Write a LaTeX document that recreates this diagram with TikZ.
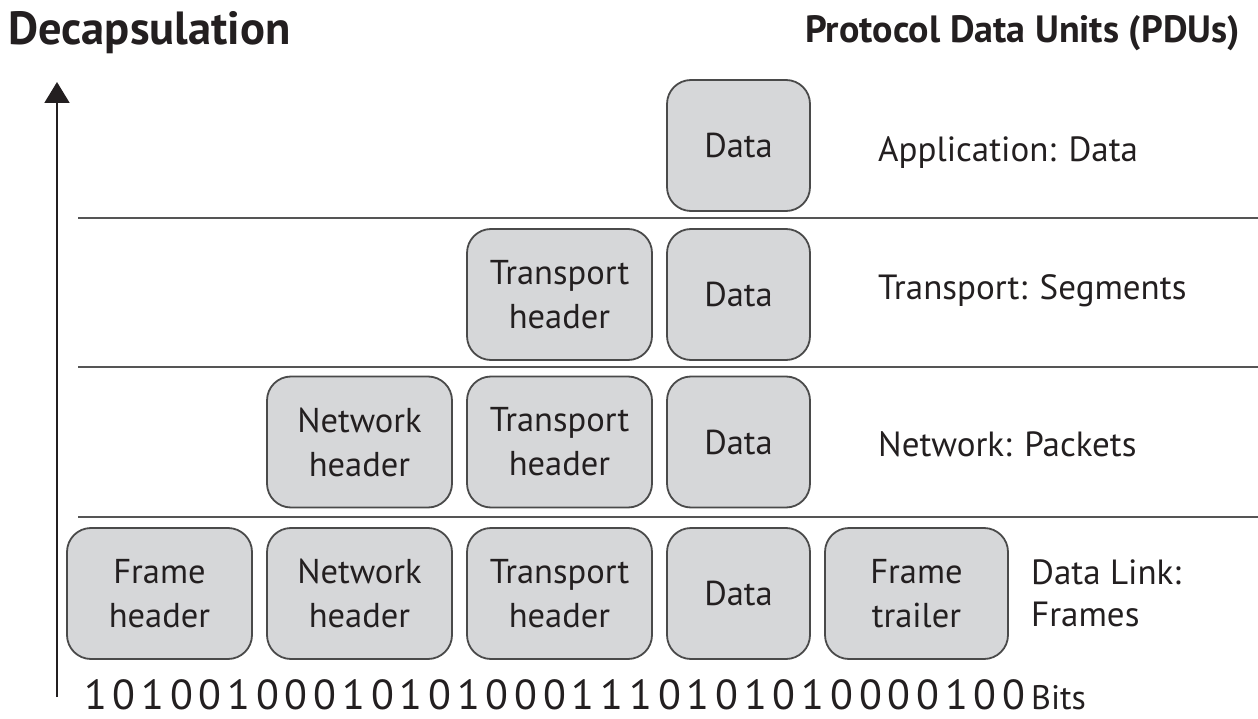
\documentclass[tikz,border=0pt]{standalone}
\usepackage{fontspec}
\setmainfont{PT Sans}
\usetikzlibrary{arrows.meta}
\definecolor{boxfill}{HTML}{D6D7D9}
\definecolor{boxline}{HTML}{4A4A4A}
\definecolor{linegray}{HTML}{555555}
\definecolor{ink}{HTML}{231F20}
\tikzset{
  pdu/.style={draw=boxline, fill=boxfill, line width=1.8pt, rounded corners=24pt,
    align=center, text=ink, font=\fontsize{34.5}{44}\selectfont, inner sep=0pt,
    minimum height=131pt},
  hdr/.style={pdu, minimum width=185pt},
  dat/.style={pdu, minimum width=143pt},
  trl/.style={pdu, minimum width=183pt},
  lbl/.style={anchor=west, text=ink, font=\fontsize{35}{42}\selectfont, align=left, inner sep=0pt},
  title/.style={anchor=base west, text=ink, inner sep=0pt},
  sep/.style={draw=linegray, line width=2.5pt},
}
\newcommand\bitcell[1]{\makebox[28.7pt]{#1}}
\begin{document}
\begin{tikzpicture}[x=1pt,y=-1pt]
\useasboundingbox (0,0) rectangle (1258,719);

% titles
\node[title, font=\fontsize{46.5}{46}\selectfont\bfseries] (t1) at (8,45) {Decapsulation};
\node[title, font=\fontsize{38}{38}\selectfont\bfseries] (t2) at (805,43) {Protocol Data Units (PDUs)};

% arrow
\coordinate (ab) at (57,697);
\coordinate (at) at (57,82);
\draw[line width=2pt, ink, -{Triangle[width=25pt,length=21pt]}] (ab) -- (at);

% separators
\coordinate (s1a) at (78,218); \coordinate (s1b) at (1258,218);
\coordinate (s2a) at (78,367); \coordinate (s2b) at (1258,367);
\coordinate (s3a) at (78,517); \coordinate (s3b) at (1258,517);
\draw[sep] (s1a) -- (s1b);
\draw[sep] (s2a) -- (s2b);
\draw[sep] (s3a) -- (s3b);

% row 1: application
\node[dat] (a1) at (738.5,145.5) {Data};
% row 2: transport
\node[hdr] (t2h) at (559.5,294.5) {Transport\\header};
\node[dat] (t2d) at (738.5,294.5) {Data};
% row 3: network
\node[hdr] (n3n) at (359.5,442) {Network\\header};
\node[hdr] (n3t) at (559.5,442) {Transport\\header};
\node[dat] (n3d) at (738.5,442) {Data};
% row 4: data link
\node[hdr] (d4f) at (159.5,593.5) {Frame\\header};
\node[hdr] (d4n) at (359.5,593.5) {Network\\header};
\node[hdr] (d4t) at (559.5,593.5) {Transport\\header};
\node[dat] (d4d) at (738.5,593.5) {Data};
\node[trl] (d4r) at (916.5,593.5) {Frame\\trailer};

% labels
\node[lbl] (la) at (878,153) {Application: Data};
\node[lbl] (lt) at (878,291) {Transport: Segments};
\node[lbl] (ln) at (878,444) {Network: Packets};
\node[lbl] (ld) at (1031,593) {Data Link:\\Frames};

% bits
\node[title, font=\fontsize{42}{42}\selectfont, text depth=0pt] (bits) at (81,709)
  {\bitcell1\bitcell0\bitcell1\bitcell0\bitcell0\bitcell1\bitcell0\bitcell0\bitcell0\bitcell1\bitcell0%
   \bitcell1\bitcell0\bitcell1\bitcell0\bitcell0\bitcell0\bitcell1\bitcell1\bitcell1\bitcell0\bitcell1%
   \bitcell0\bitcell1\bitcell0\bitcell1\bitcell0\bitcell0\bitcell0\bitcell0\bitcell1\bitcell0\bitcell0};
\node[title, font=\fontsize{34}{34}\selectfont, text depth=0pt] (bl) at (1031,709) {Bits};
\end{tikzpicture}
\end{document}
